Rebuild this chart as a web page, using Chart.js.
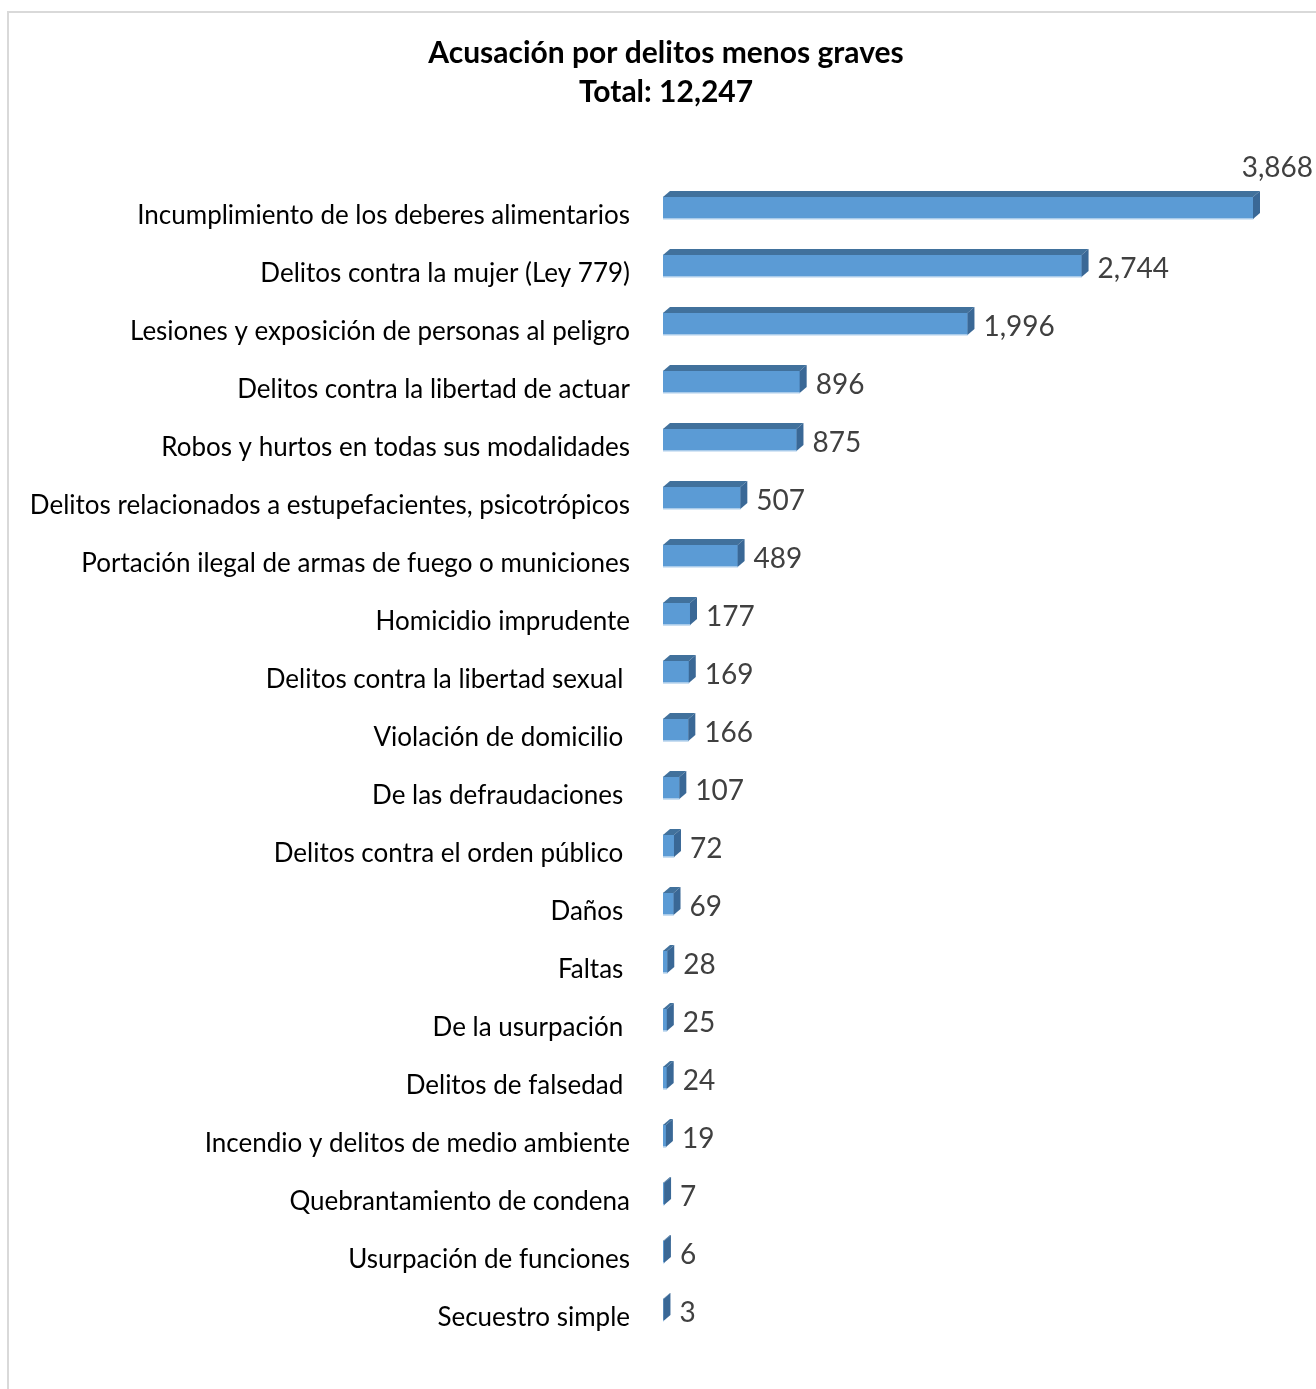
<!DOCTYPE html>
<html>
<head>
<meta charset="utf-8">
<script src="https://cdn.jsdelivr.net/npm/chart.js@4.4.1/dist/chart.umd.min.js"></script>
<style>
  html, body { margin: 0; padding: 0; background: #ffffff; }
  #wrap { position: relative; width: 1316px; height: 1389px; }
</style>
</head>
<body>
<div id="wrap"><canvas id="c" width="1316" height="1389"></canvas></div>
<script>
const titleLines = ['Acusación por delitos menos graves', 'Total: 12,247'];

const categories = [
  'Incumplimiento de los deberes alimentarios',
  'Delitos contra la mujer (Ley 779)',
  'Lesiones y exposición de personas al peligro',
  'Delitos contra la libertad de actuar',
  'Robos y hurtos en todas sus modalidades',
  'Delitos relacionados a estupefacientes, psicotrópicos',
  'Portación ilegal de armas de fuego o municiones',
  'Homicidio imprudente',
  'Delitos contra la libertad sexual ',
  'Violación de domicilio ',
  'De las defraudaciones ',
  'Delitos contra el orden público ',
  'Daños ',
  'Faltas ',
  'De la usurpación ',
  'Delitos de falsedad ',
  'Incendio y delitos de medio ambiente',
  'Quebrantamiento de condena',
  'Usurpación de funciones',
  'Secuestro simple'
];

const values = [3868, 2744, 1996, 896, 875, 507, 489, 177, 169, 166, 107, 72, 69, 28, 25, 24, 19, 7, 6, 3];

const FRONT = '#5B9BD5';
const TOP = '#41719C';
const SIDE = '#3A6896';
const DX = 7, DY = 6;
const PAD_LEFT = 16;

const frameBorder = {
  id: 'frameBorder',
  beforeDraw(chart) {
    const ctx = chart.ctx;
    ctx.save();
    ctx.fillStyle = '#ffffff';
    ctx.fillRect(0, 0, chart.width, chart.height);
    ctx.fillStyle = '#d9d9d9';
    ctx.fillRect(7, 11, chart.width - 7, 2);
    ctx.fillRect(7, 11, 2, chart.height - 11);
    ctx.restore();
  }
};

const bars3d = {
  id: 'bars3d',
  afterDatasetsDraw(chart) {
    const ctx = chart.ctx;
    const meta = chart.getDatasetMeta(0);
    ctx.save();
    meta.data.forEach((bar, i) => {
      const p = bar.getProps(['x', 'y', 'base', 'height'], true);
      const top = p.y - p.height / 2;
      const bottom = p.y + p.height / 2;
      const x0 = p.base, x1 = p.x;
      ctx.fillStyle = TOP;
      ctx.beginPath();
      ctx.moveTo(x0, top);
      ctx.lineTo(x0 + DX, top - DY);
      ctx.lineTo(x1 + DX, top - DY);
      ctx.lineTo(x1, top);
      ctx.closePath();
      ctx.fill();
      ctx.fillStyle = SIDE;
      ctx.beginPath();
      ctx.moveTo(x1, top);
      ctx.lineTo(x1 + DX, top - DY);
      ctx.lineTo(x1 + DX, bottom - DY);
      ctx.lineTo(x1, bottom);
      ctx.closePath();
      ctx.fill();
      ctx.fillStyle = '#A9CBEA';
      ctx.fillRect(x0, bottom - 1, Math.max(x1 - x0, 0.5), 1);

      const txt = values[i].toLocaleString('en-US');
      ctx.font = '28px Lato';
      ctx.fillStyle = '#404040';
      ctx.textBaseline = 'middle';
      const w = ctx.measureText(txt).width;
      const lx = x1 + DX + 9;
      if (lx + w > chart.width - 2) {
        ctx.textAlign = 'right';
        ctx.fillText(txt, chart.width - 3, top - 29);
      } else {
        ctx.textAlign = 'left';
        ctx.fillText(txt, lx, p.y + 3);
      }
    });
    ctx.restore();
  }
};

new Chart(document.getElementById('c'), {
  type: 'bar',
  data: {
    labels: categories,
    datasets: [{
      data: values,
      backgroundColor: FRONT,
      borderWidth: 0,
      barThickness: 22
    }]
  },
  options: {
    indexAxis: 'y',
    responsive: false,
    animation: false,
    devicePixelRatio: 1,
    layout: { padding: { left: PAD_LEFT, right: 0, top: 0, bottom: 50 } },
    plugins: {
      legend: { display: false },
      tooltip: { enabled: false },
      title: {
        display: true,
        text: titleLines,
        color: '#000000',
        font: { family: 'Lato', size: 30, weight: 'bold', lineHeight: 1.3 },
        padding: { top: 34, bottom: 67 }
      }
    },
    scales: {
      x: { display: false, min: 0, max: 4281 },
      y: {
        grid: { display: false, drawTicks: false },
        border: { display: false },
        ticks: {
          color: '#000000',
          font: { family: 'Lato', size: 26 },
          padding: 33,
          labelOffset: 8,
          autoSkip: false
        },
        afterFit(scale) { scale.width = 663 - PAD_LEFT; }
      }
    }
  },
  plugins: [frameBorder, bars3d]
});
</script>
</body>
</html>
